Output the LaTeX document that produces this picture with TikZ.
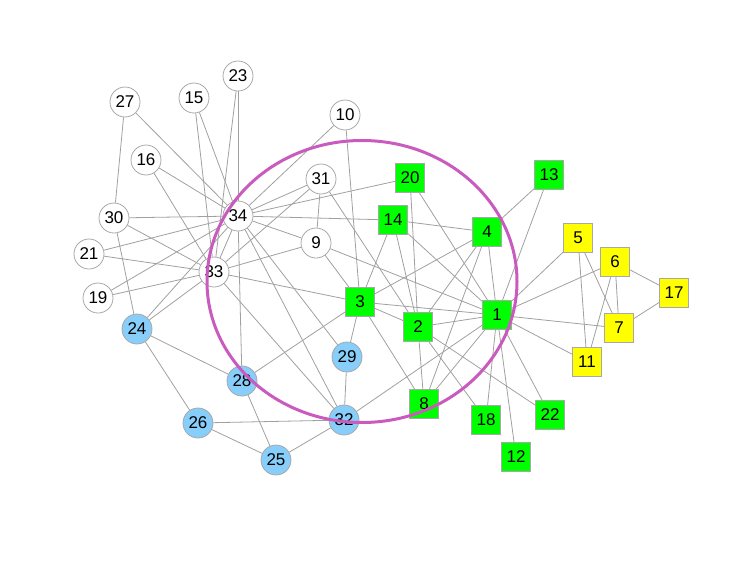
\documentclass[tikz,border=0pt]{standalone}
\usepackage{fontspec}
\setmainfont{Liberation Sans}
\usetikzlibrary{backgrounds}
\definecolor{edgec}{HTML}{A0A0A0}
\definecolor{nbord}{HTML}{A8A8A8}
\definecolor{lblue}{HTML}{87CEFA}
\definecolor{lgreen}{HTML}{00FF00}
\definecolor{lyell}{HTML}{FFFF00}
\definecolor{magc}{HTML}{C95BBE}
\begin{document}
\begin{tikzpicture}[x=1pt,y=-1pt,
  base/.style={draw=nbord,line width=0.8pt,inner sep=0pt,font=\fontsize{17}{17}\selectfont,text=black},
  wnode/.style={base,circle,fill=white,minimum size=30pt},
  bnode/.style={base,circle,fill=lblue,minimum size=30pt},
  gnode/.style={base,rectangle,fill=lgreen,minimum size=29pt},
  ynode/.style={base,rectangle,fill=lyell,minimum size=29pt},
  edge/.style={draw=edgec,line width=0.8pt},
  ring/.style={draw=magc,line width=3pt}]
\useasboundingbox (0,0) rectangle (753,565);
\node[gnode] (n1) at (497,315) {1};
\node[gnode] (n2) at (418,327) {2};
\node[gnode] (n3) at (360,302) {3};
\node[gnode] (n4) at (487,232) {4};
\node[ynode] (n5) at (578,238) {5};
\node[ynode] (n6) at (615,262) {6};
\node[ynode] (n7) at (619,328) {7};
\node[gnode] (n8) at (424,404) {8};
\node[wnode] (n9) at (316,243) {9};
\node[wnode] (n10) at (345,115) {10};
\node[ynode] (n11) at (587,362) {11};
\node[gnode] (n12) at (516,457) {12};
\node[gnode] (n13) at (549,175) {13};
\node[gnode] (n14) at (393,220) {14};
\node[wnode] (n15) at (194,98) {15};
\node[wnode] (n16) at (146,160) {16};
\node[ynode] (n17) at (674,293) {17};
\node[gnode] (n18) at (486,420) {18};
\node[wnode] (n19) at (98,298) {19};
\node[gnode] (n20) at (410,178) {20};
\node[wnode] (n21) at (89,254) {21};
\node[gnode] (n22) at (550,415) {22};
\node[wnode] (n23) at (238,76) {23};
\node[bnode] (n24) at (137,329) {24};
\node[bnode] (n25) at (276,460) {25};
\node[bnode] (n26) at (198,423) {26};
\node[wnode] (n27) at (125,102) {27};
\node[bnode] (n28) at (242,381) {28};
\node[bnode] (n29) at (347,357) {29};
\node[wnode] (n30) at (114,218) {30};
\node[wnode] (n31) at (321,179) {31};
\node[bnode] (n32) at (344,420) {32};
\node[wnode] (n33) at (214,272) {33};
\node[wnode] (n34) at (238,216) {34};
\begin{scope}[on background layer]
\foreach \a/\b in {1/2,1/3,1/4,1/5,1/6,1/7,1/8,1/9,1/11,1/12,1/13,1/14,1/18,1/20,1/22,1/32,
  2/3,2/4,2/8,2/14,2/18,2/20,2/22,2/31,
  3/4,3/8,3/9,3/10,3/14,3/28,3/29,3/33,
  4/8,4/13,4/14,5/7,5/11,6/7,6/11,6/17,7/17,
  9/31,9/33,9/34,10/34,14/34,15/33,15/34,16/33,16/34,19/33,19/34,20/34,21/33,21/34,23/33,23/34,
  24/26,24/28,24/30,24/33,24/34,25/26,25/28,25/32,26/32,27/30,27/34,28/34,29/32,29/34,
  30/33,30/34,31/33,31/34,32/33,32/34,33/34}
  \draw[edge] (n\a) -- (n\b);
\end{scope}
\coordinate (ec) at (362,281.5);
\draw[ring] (ec) ellipse [x radius=155pt, y radius=141pt];
\end{tikzpicture}
\end{document}
